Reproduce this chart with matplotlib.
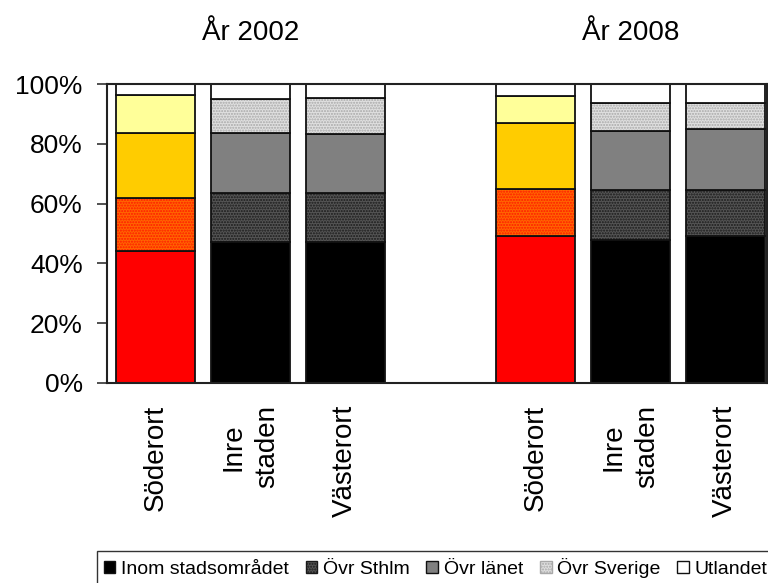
import matplotlib
matplotlib.use("Agg")
import matplotlib.pyplot as plt
from matplotlib.patches import Patch
import numpy as np

# Data (andel i %)
years      = ["År 2002", "År 2008"]
districts  = ["Söderort", "Inre\nstaden", "Västerort"]
series     = ["Inom stadsområdet", "Övr Sthlm", "Övr länet", "Övr Sverige", "Utlandet"]

inom      = [44.3, 47.0, 47.0, 49.1, 47.7, 49.3]
ovr_sthlm = [17.7, 16.6, 16.7, 15.8, 16.9, 15.3]
ovr_lanet = [21.7, 20.1, 19.5, 22.0, 19.7, 20.3]
ovr_sve   = [12.5, 11.3, 12.2,  9.1,  9.5,  8.7]
utlandet  = [ 3.8,  5.0,  4.6,  4.0,  6.2,  6.4]

values = [inom, ovr_sthlm, ovr_lanet, ovr_sve, utlandet]

# färger: Söderort i färg, övriga i gråskala
# (bas, mönsterfärg eller None)
color_red  = [("#FF0000", None), ("#FF6600", "#FF1A00"), ("#FFCC00", None),
              ("#FFFF99", None), ("#FFFFFF", None)]
color_gray = [("#000000", None), ("#555555", "#1A1A1A"), ("#808080", None),
              ("#E0E0E0", "#A8A8A8"), ("#FFFFFF", None)]

plt.rcParams["font.family"] = ["Liberation Sans", "DejaVu Sans"]
plt.rcParams["hatch.linewidth"] = 1.0

fig = plt.figure(figsize=(7.68, 5.83), dpi=100)
ax = fig.add_axes([107/768, 200/583, 660/768, 299/583])

# positioner: tom plats mellan åren
pos = []
for g in range(len(years)):
    for d in range(len(districts)):
        pos.append(g * (len(districts) + 1) + d)
pos = np.array(pos)
width = 0.83

bottom = np.zeros(len(pos))
for s, vals in enumerate(values):
    vals = np.array(vals)
    for i, p in enumerate(pos):
        face, hatch_c = color_red[s] if i % 3 == 0 else color_gray[s]
        if hatch_c:
            ax.bar(p, vals[i], width, bottom=bottom[i], color=face,
                   hatch="......", edgecolor=hatch_c, linewidth=0)
        else:
            ax.bar(p, vals[i], width, bottom=bottom[i], color=face, linewidth=0)
        ax.bar(p, vals[i], width, bottom=bottom[i], facecolor="none",
               edgecolor="#111111", linewidth=1.3)
    bottom += vals

ax.set_xlim(-0.51, 6.44)
ax.set_ylim(0, 100)
ax.set_yticks(np.arange(0, 101, 20))
ax.set_yticklabels([f"{v}%" for v in range(0, 101, 20)], fontsize=19)
ax.tick_params(axis="y", direction="out", length=7.5, width=1.2,
               color="#333333", pad=10)

ax.set_xticks(pos)
ax.set_xticklabels(districts * len(years), rotation=90, fontsize=20,
                   linespacing=1.35, multialignment="center")
ax.tick_params(axis="x", length=0, pad=16)

for sp in ax.spines.values():
    sp.set_linewidth(1.5)
    sp.set_color("#222222")

# år-rubriker
for g, year in enumerate(years):
    xc = pos[g * len(districts) + 1]
    ax.text(xc, 117, year, ha="center", va="center", fontsize=20,
            clip_on=False)

# legend i gråskala
handles = []
for s, name in enumerate(series):
    face, hatch_c = color_gray[s]
    if hatch_c:
        handles.append(Patch(facecolor=face, edgecolor=hatch_c, hatch="......"))
    else:
        handles.append(Patch(facecolor=face, edgecolor="#111111"))
leg = fig.legend(handles, series, loc="upper left",
                 bbox_to_anchor=(97/768, 1 - 551/583), ncol=5, fontsize=14,
                 frameon=True, fancybox=False, borderpad=0.35,
                 handlelength=0.6, handleheight=0.6, handletextpad=0.3,
                 columnspacing=0.85, borderaxespad=0)
leg.get_frame().set_edgecolor("#000000")
leg.get_frame().set_linewidth(1.0)

fig.savefig("out.png", dpi=100)
